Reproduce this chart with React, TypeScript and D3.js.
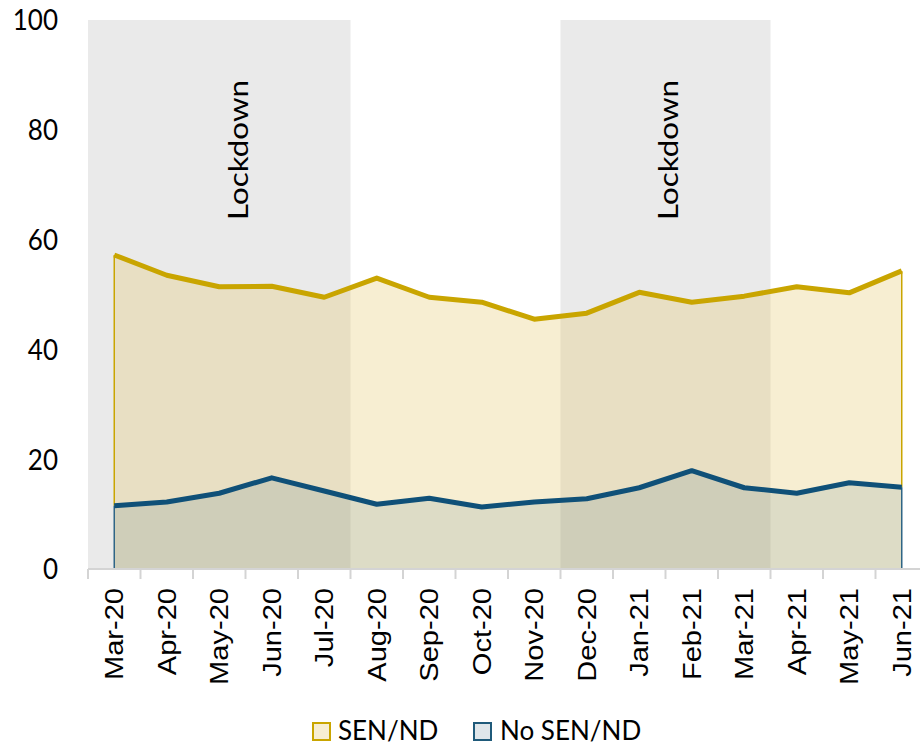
import * as d3 from "d3";

const months = [
  "Mar-20", "Apr-20", "May-20", "Jun-20", "Jul-20", "Aug-20", "Sep-20", "Oct-20",
  "Nov-20", "Dec-20", "Jan-21", "Feb-21", "Mar-21", "Apr-21", "May-21", "Jun-21",
];
const senValues = [57.2, 53.5, 51.4, 51.5, 49.5, 53.0, 49.5, 48.6, 45.5, 46.6, 50.4, 48.6, 49.7, 51.4, 50.3, 54.3];
const noSenValues = [11.5, 12.2, 13.8, 16.6, 14.2, 11.8, 12.9, 11.3, 12.2, 12.8, 14.8, 17.9, 14.8, 13.8, 15.7, 14.9];
const yTicks = [0, 20, 40, 60, 80, 100];
// lockdown periods, first and last month
const lockdowns = [["Mar-20", "Jul-20"], ["Dec-20", "Mar-21"]];
// where the "Lockdown" text box sits inside each band (px from band centre)
const lockdownLabelShift = [29, 12];

const W = 920;
const H = 751;
const left = 88;
const top = 20;
const bottom = 569;
const STRETCH = 1.14; // text in the original is a bit taller than wide

const YELLOW = "#c9a500";
const BLUE = "#0f5078";

export default function App() {
  const x = d3.scaleBand<string>().domain(months).range([left, left + months.length * 52.5]);
  const y = d3.scaleLinear().domain([0, 100]).range([bottom, top]);
  const cx = (m: string) => (x(m) ?? 0) + x.bandwidth() / 2;

  const area = (vals: number[]) =>
    d3.area<number>().x((_, i) => cx(months[i])).y0(y(0)).y1((d) => y(d))(vals) ?? "";
  const line = (vals: number[]) =>
    d3.line<number>().x((_, i) => cx(months[i])).y((d) => y(d))(vals) ?? "";

  const first = months[0];
  const last = months[months.length - 1];
  const font = "Lato, 'Open Sans', sans-serif";

  return (
    <svg width={W} height={H} style={{ position: "absolute", left: 0, top: 0 }}>
      <rect width={W} height={H} fill="#fff" />
      {lockdowns.map(([a, b], i) => {
        const x0 = x(a) ?? 0;
        const x1 = (x(b) ?? 0) + x.bandwidth();
        return (
          <g key={i}>
            <rect x={x0} y={top} width={x1 - x0} height={bottom - top} fill="#eaeaea" />
            <text
              transform={`translate(${(x0 + x1) / 2 + lockdownLabelShift[i]},${150}) scale(1,${STRETCH}) rotate(-90)`}
              textAnchor="middle"
              fontFamily={font}
              fontSize={27.5}
              fill="#000"
            >
              Lockdown
            </text>
          </g>
        );
      })}

      <path d={area(senValues)} fill="#e4c66a" fillOpacity={0.3} />
      <path d={area(noSenValues)} fill="#235873" fillOpacity={0.12} />

      {/* thin end edges of the areas */}
      {[first, last].map((m) => {
        const i = months.indexOf(m);
        return (
          <g key={m}>
            <line x1={cx(m)} x2={cx(m)} y1={y(senValues[i])} y2={y(noSenValues[i])} stroke={YELLOW} strokeWidth={1.5} />
            <line x1={cx(m)} x2={cx(m)} y1={y(noSenValues[i])} y2={y(0)} stroke="#2f6585" strokeWidth={1.5} />
          </g>
        );
      })}

      <path d={line(senValues)} fill="none" stroke={YELLOW} strokeWidth={5} strokeLinejoin="round" />
      <path d={line(noSenValues)} fill="none" stroke={BLUE} strokeWidth={5} strokeLinejoin="round" />

      {/* x axis */}
      <line x1={left} x2={W} y1={y(0)} y2={y(0)} stroke="#d4d4d4" strokeWidth={2} />
      {d3.range(months.length + 1).map((i) => {
        const tx = left + i * x.bandwidth();
        return <line key={i} x1={tx} x2={tx} y1={y(0)} y2={y(0) + 10} stroke="#d4d4d4" strokeWidth={2} />;
      })}
      {months.map((m) => (
        <text
          key={m}
          transform={`translate(${cx(m) + 9},${y(0) + 19}) scale(1,${STRETCH}) rotate(-90)`}
          textAnchor="end"
          fontFamily="'Liberation Sans', Arial, sans-serif"
          fontSize={25.5}
          fill="#000"
        >
          {m}
        </text>
      ))}

      {/* y axis labels */}
      {yTicks.map((t) => (
        <text
          key={t}
          transform={`translate(58,${y(t)}) scale(1,${STRETCH})`}
          dy="0.35em"
          textAnchor="end"
          fontFamily={font}
          fontSize={26}
          fill="#000"
        >
          {t}
        </text>
      ))}

      {/* legend */}
      <rect x={313} y={723} width={17} height={17} fill="#f7eed3" stroke={YELLOW} strokeWidth={2} />
      <text x={338} y={740} fontFamily={font} fontSize={26} fill="#000">SEN/ND</text>
      <rect x={474} y={723} width={17} height={17} fill="#dfe6ea" stroke="#1f5a7a" strokeWidth={2} />
      <text x={500} y={740} fontFamily={font} fontSize={26} fill="#000">No SEN/ND</text>
    </svg>
  );
}
